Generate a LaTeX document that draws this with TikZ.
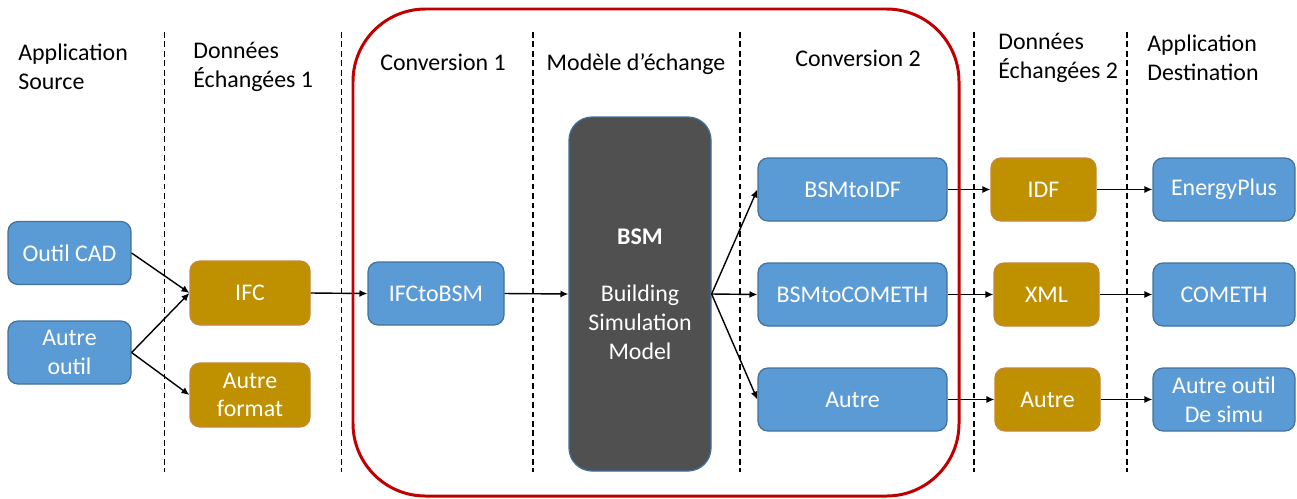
\documentclass[tikz,border=0pt]{standalone}
\usepackage{fontspec}
\setmainfont{Carlito}
\usetikzlibrary{arrows.meta}
\definecolor{bluefill}{HTML}{5B9BD5}
\definecolor{blueline}{HTML}{41719C}
\definecolor{goldfill}{HTML}{BF9000}
\definecolor{goldline}{HTML}{C8843C}
\definecolor{bsmgray}{HTML}{505050}
\definecolor{redline}{HTML}{C00000}
\begin{document}
\begin{tikzpicture}[x=0.02cm,y=-0.02cm,
  font=\fontsize{13.6}{16.4}\selectfont,
  box/.style={rounded corners=0.2cm, draw, line width=0.7pt, text=white, align=center, inner sep=0pt},
  bluebox/.style={box, fill=bluefill, draw=blueline},
  goldbox/.style={box, fill=goldfill, draw=goldline},
  sz/.style 2 args={minimum width=#1*0.02cm, minimum height=#2*0.02cm},
  arr/.style={-{Latex[length=4.5pt,width=4pt]}, line width=0.8pt},
  sep/.style={dash pattern=on 3.2pt off 2.2pt, line width=1.1pt},
  hdr/.style={align=left, anchor=west, inner sep=0pt},
  redbox/.style={draw=redline, line width=1.7pt, rounded corners=1.45cm}]
\useasboundingbox (0,0) rectangle (1297,498);

% separators
\foreach \x in {164.5,341.5,533,740,974,1127}
  \draw[sep] (\x,32) -- (\x,472);

% headers
\node[hdr] (h1) at (18,67) {Application\\Source};
\node[hdr] (h2) at (193,67) {Données\\Échangées 1};
\node (h3) at (443,62) {Conversion 1};
\node (h4) at (636,64) {Modèle d’échange};
\node (h5) at (858,58) {Conversion 2};
\node[hdr] (h6) at (998,57.5) {Données\\Échangées 2};
\node[hdr] (h7) at (1147,57.5) {Application\\Destination};

% boxes
\node[bluebox, sz={123}{63}] (cad) at (69.5,253) {Outil CAD};
\node[bluebox, sz={123}{63}] (ao) at (69.5,352.5) {Autre\\outil};
\node[goldbox, sz={120}{64}] (ifc) at (250,293) {IFC};
\node[goldbox, sz={120}{64}] (af) at (250,395) {Autre\\format};
\node[bluebox, sz={136}{63}] (i2b) at (436,293.5) {IFCtoBSM};
\node[box, fill=bsmgray, draw=blueline, sz={142}{354}, rounded corners=0.46cm] (bsm) at (640,294)
  {\textbf{BSM}\\[16.4pt]Building\\Simulation\\Model};
\node[bluebox, sz={189}{63}] (b2i) at (852.5,189.5) {BSMtoIDF};
\node[bluebox, sz={189}{63}] (b2c) at (852.5,294.5) {BSMtoCOMETH};
\node[bluebox, sz={189}{63}] (b2a) at (852.5,399.5) {Autre};
\node[goldbox, sz={105}{63}] (idf) at (1043.5,189.5) {IDF};
\node[goldbox, sz={105}{63}] (xml) at (1046.5,294.5) {XML};
\node[goldbox, sz={105}{63}] (ag) at (1047.5,399.5) {Autre};
\node[bluebox, sz={142}{63}] (ep) at (1224,189.5) {EnergyPlus};
\node[bluebox, sz={142}{63}] (co) at (1224,294.5) {COMETH};
\node[bluebox, sz={142}{63}] (ds) at (1224,399.5) {Autre outil\\De simu};

% connectors
\draw[arr] (cad.east) -- (ifc.west);
\draw[arr] (ao.east) -- (ifc.west);
\draw[arr] (ao.east) -- (af.west);
\draw[arr] (ifc.east) -- (i2b.west);
\draw[arr] (i2b.east) -- (bsm.west);
\draw[arr] (bsm.east) -- (b2i.west);
\draw[arr] (bsm.east) -- (b2c.west);
\draw[arr] (bsm.east) -- (b2a.west);
\draw[arr] (b2i.east) -- (idf.west);
\draw[arr] (b2c.east) -- (xml.west);
\draw[arr] (b2a.east) -- (ag.west);
\draw[arr] (idf.east) -- (ep.west);
\draw[arr] (xml.east) -- (co.west);
\draw[arr] (ag.east) -- (ds.west);

% red frame
\draw[redbox] (353,9) rectangle (959,496);
\end{tikzpicture}
\end{document}
